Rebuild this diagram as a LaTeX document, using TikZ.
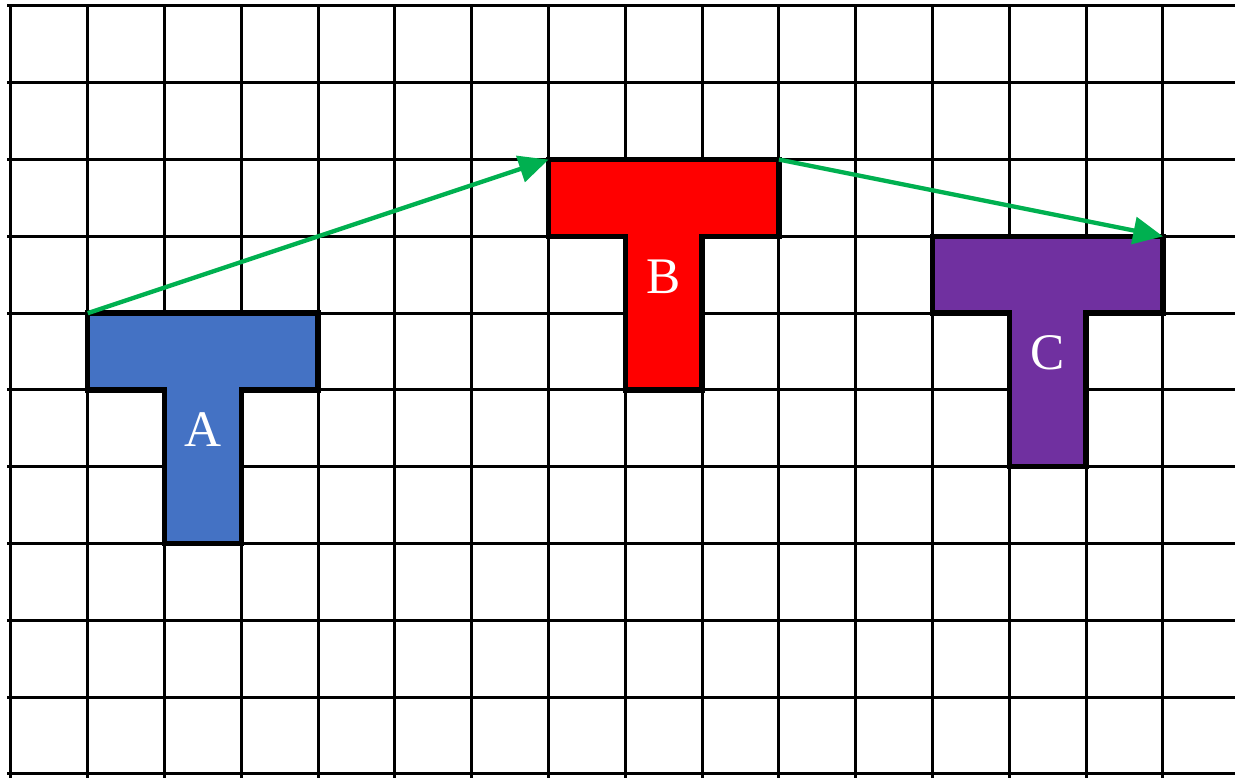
\documentclass[tikz,border=0pt]{standalone}
\usepackage{fontspec}
\setmainfont{Liberation Serif}
\usetikzlibrary{arrows.meta}
\definecolor{tblue}{HTML}{4472C4}
\definecolor{tred}{HTML}{FF0000}
\definecolor{tpurple}{HTML}{7030A0}
\definecolor{tgreen}{HTML}{00B050}
\tikzset{grid line/.style={black, line width=1.1pt},
  tpiece/.style={draw=black, line width=2pt, line join=miter},
  tlabel/.style={text=white, font=\fontsize{19}{19}\selectfont, inner sep=0pt},
  slide/.style={tgreen, line width=1.6pt, -{Triangle[length=11pt, width=10pt]}}}

\begin{document}
\begin{tikzpicture}
  \useasboundingbox (-0.143,-0.052) rectangle (15.938,10.078);
  \foreach \y in {0,...,10} \draw[grid line] (-0.05,\y) -- (15.94,\y);
  \foreach \x in {0,...,15} \draw[grid line] (\x,10) -- (\x,-0.06);
  \fill[tblue]   (1,6) -- (4,6) -- (4,5) -- (3,5) -- (3,3) -- (2,3) -- (2,5) -- (1,5) -- cycle;
  \fill[tred]    (7,8) -- (10,8) -- (10,7) -- (9,7) -- (9,5) -- (8,5) -- (8,7) -- (7,7) -- cycle;
  \fill[tpurple] (12,7) -- (15,7) -- (15,6) -- (14,6) -- (14,4) -- (13,4) -- (13,6) -- (12,6) -- cycle;
  \draw[tpiece] (1,6) -- (4,6) -- (4,5) -- (3,5) -- (3,3) -- (2,3) -- (2,5) -- (1,5) -- cycle;
  \draw[tpiece] (7,8) -- (10,8) -- (10,7) -- (9,7) -- (9,5) -- (8,5) -- (8,7) -- (7,7) -- cycle;
  \draw[tpiece] (12,7) -- (15,7) -- (15,6) -- (14,6) -- (14,4) -- (13,4) -- (13,6) -- (12,6) -- cycle;
  \node[tlabel] (lA) at (2.5,4.48) {A};
  \node[tlabel] (lB) at (8.5,6.48) {B};
  \node[tlabel] (lC) at (13.5,5.48) {C};
  \coordinate (A nw) at (1,6);
  \coordinate (B nw) at (7,8);
  \coordinate (B ne) at (10,8);
  \coordinate (C ne) at (15,7);
  \draw[slide] (A nw) -- (B nw);
  \draw[slide] (B ne) -- (C ne);
\end{tikzpicture}
\end{document}
